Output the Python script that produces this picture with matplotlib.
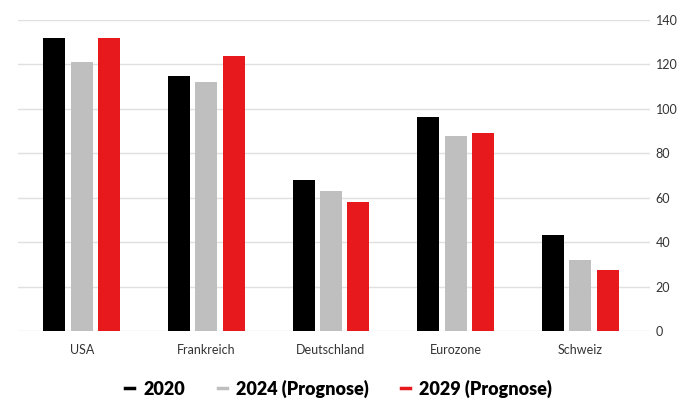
import numpy as np
import matplotlib.pyplot as plt

regions = ['USA', 'Frankreich', 'Deutschland', 'Eurozone', 'Schweiz']
series_names = ['2020', '2024 (Prognose)', '2029 (Prognose)']
values_2020 = [132, 115, 68, 96.5, 43]
values_2024 = [121, 112, 63, 88, 32]
values_2029 = [132, 124, 58, 89, 27.5]
colors = ['#000000', '#bfbfbf', '#e8191c']

plt.rcParams['font.family'] = ['Lato', 'DejaVu Sans']

fig = plt.figure(figsize=(6.77, 4), dpi=100)
ax = fig.add_axes([0.027, 0.1725, 0.933, 0.7775])

x = np.arange(len(regions))
width = 0.177
step = 0.22
for i, (vals, name, col) in enumerate(zip([values_2020, values_2024, values_2029], series_names, colors)):
    ax.bar(x + (i - 1) * step, vals, width, color=col, label=name, zorder=3)

ax.set_ylim(0, 140)
ax.set_xlim(-0.51, 4.56)
ax.set_yticks(range(0, 141, 20))
ax.set_xticks(x)
ax.set_xticklabels(regions)
ax.yaxis.tick_right()
ax.tick_params(axis='both', length=0, labelsize=9, colors='#333333')
ax.tick_params(axis='y', pad=4)
ax.tick_params(axis='x', pad=9)
ax.grid(axis='y', color='#e0e0e0', linewidth=1, zorder=0)
for s in ax.spines.values():
    s.set_visible(False)

handles = [plt.Line2D([0], [0], color=c, lw=2.5) for c in colors]
fig.legend(handles, series_names, loc='lower center', bbox_to_anchor=(0.5, -0.035),
           ncol=3, frameon=False, handlelength=0.5, handletextpad=0.5, columnspacing=1.8,
           prop={'weight': 'heavy', 'size': 13})

fig.savefig('out.png', dpi=100)
